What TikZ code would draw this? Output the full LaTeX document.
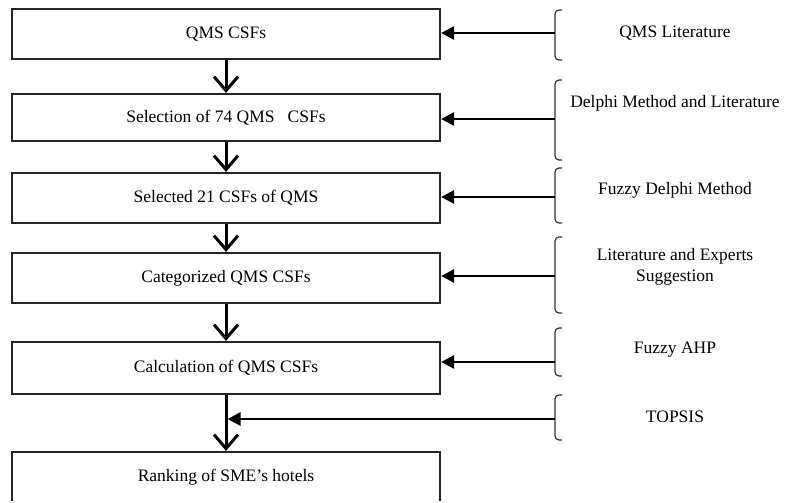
\documentclass[tikz,border=0pt]{standalone}
\usepackage{fontspec}
\setmainfont{Liberation Serif}
\usetikzlibrary{arrows.meta}

\begin{document}
\begin{tikzpicture}[x=1pt,y=1pt,
processnode/.style={rectangle, draw=black!85, line width=2.2pt, minimum width=428pt, minimum height=50pt, inner sep=0pt, font=\fontsize{17.5}{21}\selectfont},
sourcetext/.style={align=center, font=\fontsize{17.5}{21}\selectfont},
bracket/.style={draw=black!80, line width=1.2pt, rounded corners=4pt},
downarrow/.style={line width=3pt, -{Straight Barb[length=14pt,width=24pt,line width=3pt]}},
feedarrow/.style={line width=2.6pt, -{Triangle[length=13pt,width=13pt]}}
]
\useasboundingbox (0,0) rectangle (787,-503);
\clip (0,0) rectangle (787,-500.5);
%Boxes
\node[processnode] (csf) at (226,-34) {QMS CSFs};
\node[processnode, minimum height=47pt] (select) at (226,-117.5) {Selection of 74 QMS \ \ CSFs};
\node[processnode] (selected) at (226,-198) {Selected 21 CSFs of QMS};
\node[processnode] (categ) at (226,-278) {Categorized QMS CSFs};
\node[processnode, minimum height=52pt] (calc) at (226,-368) {Calculation of QMS CSFs};
\node[processnode] (rank) at (226,-477) {Ranking of SME's hotels};

%Sources
\node[sourcetext] (lit) at (675,-33) {QMS Literature};
\node[sourcetext] (delphi) at (675,-103) {Delphi Method and Literature};
\node[sourcetext] (fuzzy) at (675,-190) {Fuzzy Delphi Method};
\node[sourcetext] (experts) at (675,-267) {Literature and Experts\\Suggestion};
\node[sourcetext] (ahp) at (675,-350) {Fuzzy AHP};
\node[sourcetext] (topsis) at (675,-417) {TOPSIS};

%Brackets
\foreach \top/\bot/\mid/\name in {10/60/33/b1, 80/160/119/b2, 168/223/197/b3, 237/313/276/b4, 328/376/362/b5, 395/440/419/b6}{
  \draw[bracket] (562,-\top) -- (555,-\top) -- (555,-\bot) -- (562,-\bot);
  \coordinate (\name) at (555,-\mid);
}

%Arrows
\draw[downarrow] (csf.south) -- (select.north);
\draw[downarrow] (select.south) -- (selected.north);
\draw[downarrow] (selected.south) -- (categ.north);
\draw[downarrow] (categ.south) -- (calc.north);
\draw[downarrow] (calc.south) -- (rank.north);

\draw[feedarrow] (b1) -- (b1 -| csf.east);
\draw[feedarrow] (b2) -- (b2 -| select.east);
\draw[feedarrow] (b3) -- (b3 -| selected.east);
\draw[feedarrow] (b4) -- (b4 -| categ.east);
\draw[feedarrow] (b5) -- (b5 -| calc.east);
\draw[feedarrow] (b6) -- ([xshift=1.5pt]b6 -| calc.south);
\end{tikzpicture}
\end{document}
